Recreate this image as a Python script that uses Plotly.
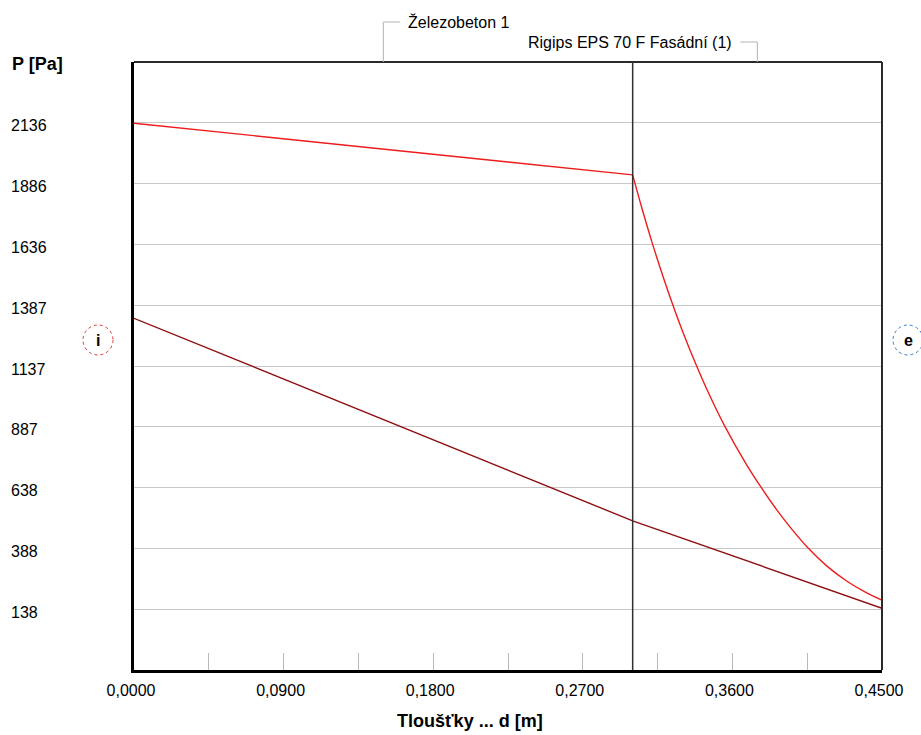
import plotly.graph_objects as go

# Wall layers from the interior (i) to the exterior (e), thicknesses in metres
layer_names = ["Železobeton 1", "Rigips EPS 70 F Fasádní (1)"]
layer_edges = [0.0, 0.30, 0.45]

# Saturated water vapour pressure through the wall [Pa]
psat_x = [0.0, 0.075, 0.15, 0.225, 0.30,
          0.3054, 0.3116, 0.3182, 0.3238, 0.3303, 0.3383, 0.3453, 0.3554,
          0.3684, 0.3776, 0.3867, 0.3957, 0.4057, 0.4167, 0.4287, 0.4408, 0.45]
psat_y = [2134, 2080, 2027, 1975, 1922,
          1789, 1646, 1506, 1395, 1275, 1140, 1031, 890,
          733, 635, 546, 467, 388, 316, 254, 205, 175]

# Partial water vapour pressure through the wall [Pa]
p_x = [0.0, 0.30, 0.45]
p_y = [1333, 501, 142]

# Axis scales
y_range = [-111.75, 2385.75]
y_tickvals = [138.0, 387.75, 637.5, 887.25, 1137.0, 1386.75, 1636.5, 1886.25, 2136.0]
y_ticktext = ["138", "388", "638", "887", "1137", "1387", "1636", "1886", "2136"]
x_range = [0.0, 0.45]
x_tickvals = [0.0, 0.09, 0.18, 0.27, 0.36, 0.45]
x_ticktext = ["0,0000", "0,0900", "0,1800", "0,2700", "0,3600", "0,4500"]
x_minor_ticks = [0.045, 0.135, 0.225, 0.315, 0.405]

FONT = "Liberation Sans, Arial, sans-serif"
GRID = "#c8c8c8"
LEADER = "#b4b4b4"
PSAT_COLOUR = "#ee1c1c"
P_COLOUR = "#8e0f12"

fig = go.Figure()

# p sat is drawn layer by layer: straight through the concrete,
# a smooth curve through the insulation
for k in range(len(layer_edges) - 1):
    lo, hi = layer_edges[k], layer_edges[k + 1]
    xs = [x for x in psat_x if lo <= x <= hi]
    ys = [y for x, y in zip(psat_x, psat_y) if lo <= x <= hi]
    fig.add_trace(go.Scatter(x=xs, y=ys, mode="lines",
                             line=dict(color=PSAT_COLOUR, width=1.4,
                                       shape="spline" if k > 0 else "linear",
                                       smoothing=0.8),
                             name="p sat", hoverinfo="x+y"))

fig.add_trace(go.Scatter(x=p_x, y=p_y, mode="lines",
                         line=dict(color=P_COLOUR, width=1.4),
                         name="p", hoverinfo="x+y"))

shapes = []
annotations = []

# Plot frame: thin top and right edges
shapes.append(dict(type="line", xref="paper", yref="paper", x0=0, x1=1, y0=1, y1=1,
                   line=dict(color="#2a2a2a", width=2)))
shapes.append(dict(type="line", xref="paper", yref="paper", x0=1, x1=1, y0=0, y1=1,
                   line=dict(color="#2a2a2a", width=2)))

# Inner layer boundaries
for edge in layer_edges[1:-1]:
    shapes.append(dict(type="line", xref="x", yref="paper", x0=edge, x1=edge, y0=0, y1=1,
                       line=dict(color="#303030", width=1.5)))

# Layer name callouts above the plot
for k, name in enumerate(layer_names):
    mid = (layer_edges[k] + layer_edges[k + 1]) / 2
    rise = 40 if k % 2 == 0 else 20
    side = 1 if k % 2 == 0 else -1
    shapes.append(dict(type="line", xref="x", x0=mid, x1=mid,
                       yref="paper", ysizemode="pixel", yanchor=1, y0=0, y1=rise,
                       line=dict(color=LEADER, width=1)))
    shapes.append(dict(type="line", xref="x", xsizemode="pixel", xanchor=mid,
                       x0=0, x1=side * 17,
                       yref="paper", ysizemode="pixel", yanchor=1, y0=rise, y1=rise,
                       line=dict(color=LEADER, width=1)))
    annotations.append(dict(text=name, xref="x", x=mid, xshift=side * 23,
                            xanchor="left" if side > 0 else "right",
                            yref="paper", y=1, yshift=rise, yanchor="middle",
                            showarrow=False, font=dict(family=FONT, size=16, color="#000")))

# Y tick labels, left aligned at the page edge
for val, txt in zip(y_tickvals, y_ticktext):
    annotations.append(dict(text=txt, xref="paper", x=0, xshift=-125, xanchor="left",
                            yref="y", y=val, yshift=-3, yanchor="middle",
                            showarrow=False, font=dict(family=FONT, size=16, color="#000")))

# Axis titles
annotations.append(dict(text="<b>P [Pa]</b>", xref="paper", x=0, xshift=-124, xanchor="left",
                        yref="paper", y=1, yshift=-2, yanchor="middle", showarrow=False,
                        font=dict(family=FONT, size=18, color="#000")))
annotations.append(dict(text="<b>Tloušťky ... d [m]</b>", xref="paper", x=0.449,
                        xanchor="center", yref="paper", y=0, yshift=-51, yanchor="middle",
                        showarrow=False, font=dict(family=FONT, size=18, color="#000")))

# Interior / exterior markers
for label, colour, anchor, offset in [("i", "#e03a3a", 0, -36), ("e", "#3a7cc4", 1, 26)]:
    shapes.append(dict(type="circle", xref="paper", xsizemode="pixel", xanchor=anchor,
                       x0=offset - 15, x1=offset + 15,
                       yref="paper", ysizemode="pixel", yanchor=1, y0=-263, y1=-293,
                       line=dict(color=colour, width=1, dash="dot")))
    annotations.append(dict(text="<b>" + label + "</b>", xref="paper", x=anchor, xshift=offset,
                            xanchor="center", yref="paper", y=1, yshift=-278, yanchor="middle",
                            showarrow=False, font=dict(family=FONT, size=16, color="#000")))

fig.update_layout(
    width=921, height=735,
    margin=dict(l=134, r=39, t=62, b=65, pad=0),
    paper_bgcolor="white", plot_bgcolor="white",
    showlegend=False,
    shapes=shapes, annotations=annotations,
    font=dict(family=FONT, size=16, color="#000"),
    xaxis=dict(range=x_range, tickvals=x_tickvals, ticktext=x_ticktext,
               showgrid=False, zeroline=False,
               showline=True, linecolor="#000", linewidth=3,
               ticks="inside", ticklen=17, tickcolor="#b8b8b8", tickwidth=1,
               minor=dict(tickvals=x_minor_ticks, ticks="inside", ticklen=17,
                          tickcolor="#b8b8b8", tickwidth=1, showgrid=False),
               tickfont=dict(family=FONT, size=16, color="#000"),
               ticklabelstandoff=4, ticklabelshift=-3),
    yaxis=dict(range=y_range, tickvals=y_tickvals, showticklabels=False,
               showgrid=True, gridcolor=GRID, gridwidth=1.3, zeroline=False,
               showline=True, linecolor="#000", linewidth=3, ticks=""),
)

fig.write_html("out.html")
